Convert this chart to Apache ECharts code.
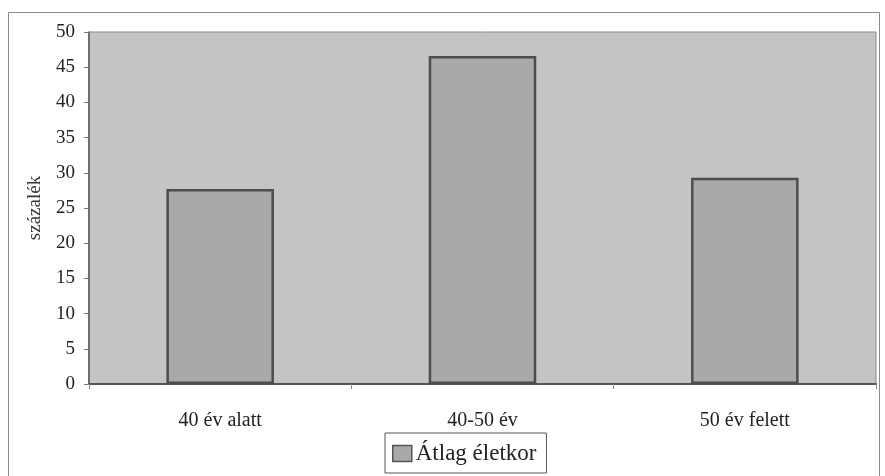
<!DOCTYPE html>
<html>
<head>
<meta charset="utf-8">
<script src="https://cdn.jsdelivr.net/npm/echarts@6/dist/echarts.min.js"></script>
<style>
html,body{margin:0;padding:0;background:#fff;}
#c{width:885px;height:476px;}
</style>
</head>
<body>
<div id="c"></div>
<script>
const categories = ['40 év alatt', '40-50 év', '50 év felett'];
const seriesName = 'Átlag életkor';
const values = [27.7, 46.6, 29.3];
const yAxisName = 'százalék';

const chart = echarts.init(document.getElementById('c'), null, {renderer: 'canvas'});
const font = '"Liberation Serif", "Times New Roman", serif';
chart.setOption({
  backgroundColor: '#ffffff',
  animation: false,
  textStyle: {fontFamily: font},
  graphic: [{
    type: 'rect',
    shape: {x: 8.5, y: 12.5, width: 871, height: 470},
    style: {fill: 'none', stroke: '#8a8a8a', lineWidth: 1},
    silent: true
  }],
  grid: {
    left: 89, top: 32, right: 9, bottom: 92,
    show: true,
    backgroundColor: '#c4c4c4',
    borderColor: '#8a8a8a',
    borderWidth: 1
  },
  legend: {
    data: [seriesName],
    left: 385, top: 433,
    icon: 'rect',
    itemWidth: 19, itemHeight: 16,
    itemGap: 4,
    padding: [9, 10, 8, 7],
    borderColor: '#555',
    borderWidth: 1,
    backgroundColor: '#fff',
    textStyle: {fontFamily: font, fontSize: 23, color: '#222', padding: [0, 0, 0, -1]},
    itemStyle: {borderColor: '#555', borderWidth: 1.5}
  },
  xAxis: {
    type: 'category',
    data: categories,
    axisLine: {lineStyle: {color: '#555', width: 2}},
    axisTick: {show: true, alignWithLabel: false, length: 5, lineStyle: {color: '#888'}},
    axisLabel: {color: '#222', fontSize: 20, margin: 27, fontFamily: font},
    splitLine: {show: false}
  },
  yAxis: {
    type: 'value',
    min: 0, max: 50, interval: 5,
    name: yAxisName,
    nameLocation: 'middle',
    nameRotate: 90,
    nameGap: 44,
    nameTextStyle: {color: '#333', fontSize: 19, fontFamily: font},
    axisLine: {show: true, lineStyle: {color: '#555', width: 1.5}},
    axisTick: {show: true, length: 5, lineStyle: {color: '#777'}},
    axisLabel: {color: '#222', fontSize: 19, margin: 14, fontFamily: font},
    splitLine: {show: false}
  },
  series: [{
    name: seriesName,
    type: 'bar',
    data: values,
    barWidth: '41%',
    itemStyle: {color: '#a9a9a9', borderColor: '#4d4d4d', borderWidth: 2.5}
  }]
});
</script>
</body>
</html>
